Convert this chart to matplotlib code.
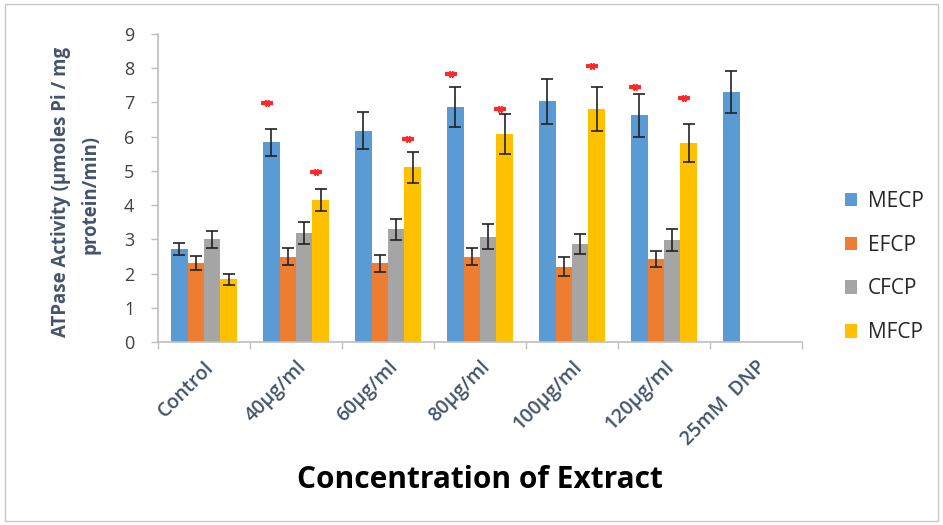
import numpy as np
import matplotlib
matplotlib.use("Agg")
import matplotlib.pyplot as plt
from matplotlib.patches import Rectangle, Patch

plt.rcParams['font.family'] = ['Open Sans', 'DejaVu Sans']

groups = ["Control", "40µg/ml", "60µg/ml", "80µg/ml", "100µg/ml", "120µg/ml", "25mM  DNP"]
series = ["MECP", "EFCP", "CFCP", "MFCP"]
colors = ["#5B9BD5", "#ED7D31", "#A5A5A5", "#FFC000"]

# values (nan = no bar)
mecp = [2.72, 5.83, 6.18, 6.86, 7.03, 6.62, 7.31]
efcp = [2.30, 2.49, 2.30, 2.49, 2.20, 2.42, np.nan]
cfcp = [3.00, 3.18, 3.29, 3.08, 2.86, 2.98, np.nan]
mfcp = [1.83, 4.15, 5.10, 6.08, 6.80, 5.81, np.nan]

mecp_err = [0.18, 0.39, 0.55, 0.58, 0.65, 0.63, 0.61]
efcp_err = [0.21, 0.25, 0.24, 0.25, 0.28, 0.24, np.nan]
cfcp_err = [0.24, 0.32, 0.31, 0.37, 0.29, 0.31, np.nan]
mfcp_err = [0.17, 0.33, 0.46, 0.58, 0.64, 0.56, np.nan]

# significance marks: group index, series index, height
star_group = [1, 1, 2, 3, 3, 4, 5, 5]
star_series = [0, 3, 3, 0, 3, 3, 0, 3]
star_y = [6.98, 4.98, 5.93, 7.83, 6.80, 8.07, 7.44, 7.12]

values = [mecp, efcp, cfcp, mfcp]
errors = [mecp_err, efcp_err, cfcp_err, mfcp_err]

fig = plt.figure(figsize=(9.43, 5.25), dpi=100)
ax = fig.add_axes([158 / 943, 1 - 342 / 525, (802 - 158) / 943, (342 - 34) / 525])

w = 0.178
x = np.arange(len(groups)) + 0.5
for k in range(4):
    xs = x + (k - 1.5) * w
    ax.bar(xs, values[k], width=w, color=colors[k], label=series[k], zorder=2)
    ax.errorbar(xs, values[k], yerr=errors[k], fmt="none", ecolor="#222222",
                elinewidth=1.2, capsize=4, capthick=1.2, zorder=3)

# small red asterisks (squashed blobs like in the scan)
sx = [x[g] + (s - 1.5) * w - 0.05 for g, s in zip(star_group, star_series)]
ax.plot(sx, star_y, linestyle="none", marker=(6, 2, 90), markersize=5,
        markeredgewidth=1.4, color="#FF2A2A", zorder=4)
ax.plot(sx, star_y, linestyle="none", marker="_", markersize=9,
        markeredgewidth=3, color="#FF2A2A", zorder=4)

ax.set_xlim(0, len(groups))
ax.set_ylim(0, 9)
ax.set_yticks(range(10))
ax.tick_params(axis="y", labelsize=13, labelcolor="#404040", color="#BFBFBF",
               length=5, width=1, pad=12)
ax.set_xticks(np.arange(len(groups) + 1))
ax.set_xticklabels([])
ax.set_xticks(x, minor=True)
ax.set_xticklabels(groups, minor=True, rotation=45, ha="right",
                   rotation_mode="anchor", fontsize=14, fontweight="semibold",
                   color="#44546A")
ax.tick_params(axis="x", which="major", color="#BFBFBF", length=5, width=1)
ax.tick_params(axis="x", which="minor", length=0, pad=11)

for side in ["top", "right"]:
    ax.spines[side].set_visible(False)
for side in ["left", "bottom"]:
    ax.spines[side].set_color("#BFBFBF")
    ax.spines[side].set_linewidth(1.2)

fig.text(61 / 943, 1 - 192 / 525, "ATPase Activity (µmoles Pi / mg",
         rotation=90, ha="center", va="center", fontsize=13.4,
         fontweight="bold", color="#44546A")
fig.text(91 / 943, 1 - 194 / 525, "protein/min)",
         rotation=90, ha="center", va="center", fontsize=13.4,
         fontweight="bold", color="#44546A")
fig.text(480 / 943, 1 - 480 / 525, "Concentration of Extract",
         ha="center", va="center", fontsize=21.5, fontweight="bold", color="black")

handles = [Patch(facecolor=c, edgecolor="none") for c in colors]
fig.legend(handles, series, loc="center left",
           bbox_to_anchor=(826 / 943, 1 - 267 / 525), frameon=False,
           fontsize=15, handlelength=0.6, handleheight=0.6,
           handletextpad=0.5, labelspacing=1.1, labelcolor="#262626")

fig.patches.append(Rectangle((5 / 943, 4 / 525), 933 / 943, 517 / 525,
                             transform=fig.transFigure, fill=False,
                             edgecolor="#C8C8C8", linewidth=1))

fig.savefig("out.png", dpi=100)
